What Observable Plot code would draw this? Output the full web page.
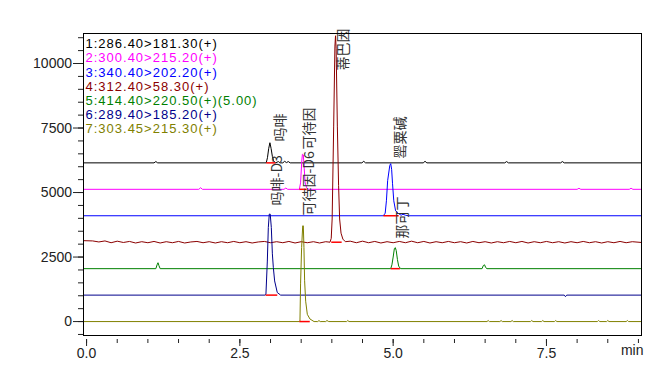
<!DOCTYPE html>
<html><head><meta charset="utf-8">
<script src="https://cdn.jsdelivr.net/npm/d3@7"></script>
<script src="https://cdn.jsdelivr.net/npm/@observablehq/plot@0.6"></script>
<style>body{margin:0;background:#fff}</style>
</head><body><div id="chart"></div>
<script>
// Channels (legend) and colours
const channels = ["1:286.40>181.30(+)","2:300.40>215.20(+)","3:340.40>202.20(+)","4:312.40>58.30(+)","5:414.40>220.50(+)(5.00)","6:289.40>185.20(+)","7:303.45>215.30(+)"];
const colors = ["#000000","#ff00ff","#0000ff","#8b0000","#008000","#00008b","#808000"];
const offsets = [6150, 5125, 4100, 3075, 2050, 1025, 0];

// Traces: [time (min), intensity above own baseline]
const trace1 = [[-0.05,0],[1.10,0],[1.13,50],[1.16,0],[2.93,0],[2.95,200],[2.97,550],[2.99,780],[3.01,550],[3.03,250],[3.05,80],[3.08,0],[3.13,50],[3.15,0],[3.20,0],[3.23,60],[3.26,10],[3.29,50],[3.32,0],[4.49,0],[4.52,60],[4.55,0],[5.49,0],[5.52,60],[5.55,0],[6.82,0],[6.85,50],[6.88,0],[7.73,0],[7.76,50],[7.79,0],[9.05,0]];
const trace2 = [[-0.05,0],[1.83,0],[1.86,60],[1.89,0],[3.22,0],[3.25,50],[3.28,0],[3.47,0],[3.49,250],[3.51,1100],[3.52,1360],[3.535,1330],[3.55,800],[3.565,250],[3.59,60],[3.62,0],[8.0,0],[8.03,40],[8.06,0],[8.85,0],[8.88,40],[8.91,0],[9.05,0]];
const trace3 = [[-0.05,0],[4.84,0],[4.87,100],[4.89,580],[4.91,1360],[4.945,1950],[4.96,2020],[4.975,1800],[4.99,1240],[5.01,580],[5.04,190],[5.09,80],[5.13,20],[5.16,60],[5.2,20],[5.25,0],[9.05,0]];
const trace4 = [[-0.05,60],[0.1,50],[0.2,10],[0.3,50],[0.4,-20],[0.5,40],[0.6,-10],[0.7,30],[0.8,-30],[0.9,20],[1.0,-20],[1.1,30],[1.2,-30],[1.3,20],[1.4,-20],[1.5,30],[1.6,-30],[1.7,10],[1.8,30],[1.9,-20],[2.0,20],[2.1,-30],[2.2,20],[2.3,-20],[2.4,30],[2.5,-20],[2.6,20],[2.7,-30],[2.8,10],[2.9,30],[3.0,-20],[3.1,20],[3.2,-20],[3.3,30],[3.4,-30],[3.5,20],[3.6,-20],[3.7,20],[3.8,-30],[3.9,20],[3.97,0],[3.99,150],[4.005,900],[4.03,4500],[4.05,7600],[4.06,8000],[4.07,7500],[4.09,4500],[4.11,2200],[4.127,900],[4.15,350],[4.18,120],[4.22,20],[4.3,40],[4.4,-20],[4.5,40],[4.6,-20],[4.7,30],[4.8,-30],[4.9,20],[5.0,-20],[5.1,30],[5.2,-20],[5.3,40],[5.4,-20],[5.5,30],[5.6,-30],[5.7,20],[5.8,-20],[5.9,30],[6.0,-20],[6.1,20],[6.2,-30],[6.3,30],[6.4,-20],[6.5,20],[6.6,-30],[6.7,20],[6.8,-20],[6.9,30],[7.0,-20],[7.1,30],[7.2,-30],[7.3,20],[7.4,-20],[7.5,30],[7.6,-20],[7.7,20],[7.8,-30],[7.9,20],[8.0,-20],[8.1,30],[8.2,-20],[8.3,20],[8.4,-30],[8.5,20],[8.6,-20],[8.7,30],[8.8,-20],[8.9,20],[9.05,-10]];
const trace5 = [[-0.05,0],[1.13,0],[1.15,150],[1.165,230],[1.18,120],[1.20,0],[4.96,0],[4.98,150],[5.0,450],[5.02,780],[5.035,815],[5.05,700],[5.07,350],[5.09,100],[5.12,0],[6.45,0],[6.47,120],[6.49,150],[6.51,40],[6.53,0],[9.05,0]];
const trace6 = [[-0.05,0],[2.91,0],[2.925,30],[2.948,1320],[2.964,2620],[2.98,3140],[2.995,3140],[3.013,2620],[3.03,1600],[3.046,1070],[3.067,550],[3.11,100],[3.165,0],[7.79,0],[7.81,-60],[7.83,0],[9.05,0]];
const trace7 = [[-0.05,0],[3.47,0],[3.48,20],[3.49,1460],[3.507,2870],[3.525,3710],[3.535,3710],[3.545,2870],[3.556,1580],[3.573,790],[3.60,280],[3.643,100],[3.71,0],[3.77,0],[3.79,40],[3.81,0],[3.90,0],[3.92,40],[3.95,0],[4.24,0],[4.26,40],[4.28,0],[6.53,0],[6.55,40],[6.57,0],[6.74,0],[6.76,40],[6.78,0],[6.92,0],[6.94,40],[6.96,0],[7.24,0],[7.26,40],[7.28,0],[7.42,0],[7.44,40],[7.46,0],[7.63,0],[7.65,40],[7.67,0],[8.33,0],[8.35,40],[8.37,0],[8.48,0],[8.5,40],[8.52,0],[8.8,0],[8.82,40],[8.84,0],[9.05,0]];
const traces = [trace1, trace2, trace3, trace4, trace5, trace6, trace7];

// Peak names, channel, label anchor, integration window
const peakNames = ["吗啡","可待因","罂粟碱","蒂巴因","那可丁","吗啡-D3","可待因-D6"];
const peakChannel = [0,1,2,3,4,5,6];
const labelTime = [3.17,3.64,5.12,4.19,5.15,3.12,3.64];
const labelValue = [6980,6670,6320,9730,3220,4500,4110];
const integStart = [2.93,3.47,4.84,3.99,4.96,2.92,3.47];
const integEnd = [3.08,3.59,5.09,4.16,5.11,3.11,3.64];

// Ticks
const xMajor = [0, 2.5, 5, 7.5];
const xMinor = [0,0.5,1,1.5,2,2.5,3,3.5,4,4.5,5,5.5,6,6.5,7,7.5,8,8.5,9];
const yMajor = [0, 2500, 5000, 7500, 10000];
const yMinor = [-500,0,500,1000,1500,2000,2500,3000,3500,4000,4500,5000,5500,6000,6500,7000,7500,8000,8500,9000,9500,10000,10500,11000];

const labels = peakNames.map((n,i)=>({name:n, t:labelTime[i], v:labelValue[i]}));
const integ = peakNames.map((n,i)=>({x1:integStart[i], x2:integEnd[i], y:offsets[peakChannel[i]]}));

const font = "Liberation Sans, Arial, sans-serif";
const marks = [
  ...traces.map((tr,i)=>Plot.line(tr, {x:d=>d[0], y:d=>d[1]+offsets[i], stroke:colors[i], strokeWidth:1})),
  Plot.link(integ, {x1:"x1", x2:"x2", y1:"y", y2:"y", stroke:"#ff0000", strokeWidth:1.5}),
  Plot.text(labels, {x:"t", y:"v", text:"name", rotate:-90, textAnchor:"start", fontSize:14, fontFamily:"Noto Sans CJK SC", fill:"#333"}),
  ...channels.map((s,i)=>Plot.text([s], {text:d=>d, frameAnchor:"top-left", textAnchor:"start", dx:2, dy:5.5+i*14.2, fill:colors[i], fontSize:13, fontFamily:font})),
  Plot.axisY({ticks:yMinor, tickSize:5, tickFormat:()=>"", label:null}),
  Plot.axisY({ticks:yMajor, tickSize:10, tickPadding:1.5, tickFormat:d=>String(d), label:null, fontSize:14}),
  Plot.axisX({ticks:xMinor, tickSize:4, tickFormat:()=>"", dy:4, label:null}),
  Plot.axisX({ticks:xMajor, tickSize:7, tickPadding:2, tickFormat:d=>d.toFixed(1), dy:4, label:null, fontSize:14}),
  Plot.text(["min"], {text:d=>d, frameAnchor:"bottom-right", textAnchor:"end", dx:2, dy:19, fontSize:14, fontFamily:font, fill:"#222"}),
  Plot.frame({stroke:"#000", strokeWidth:1})
];

const chart = Plot.plot({
  width: 665, height: 374,
  marginLeft: 83, marginRight: 24, marginTop: 33, marginBottom: 39,
  x: {domain: [-0.05, 9.05]},
  y: {domain: [-540, 11163]},
  style: {fontFamily: font, fontSize: "14px", color: "#222", background: "#fff"},
  marks
});
chart.querySelectorAll("text").forEach(t=>{
  if (channels.includes(t.textContent)) t.style.letterSpacing = "1px";
});
document.getElementById("chart").appendChild(chart);
</script>
</body></html>
